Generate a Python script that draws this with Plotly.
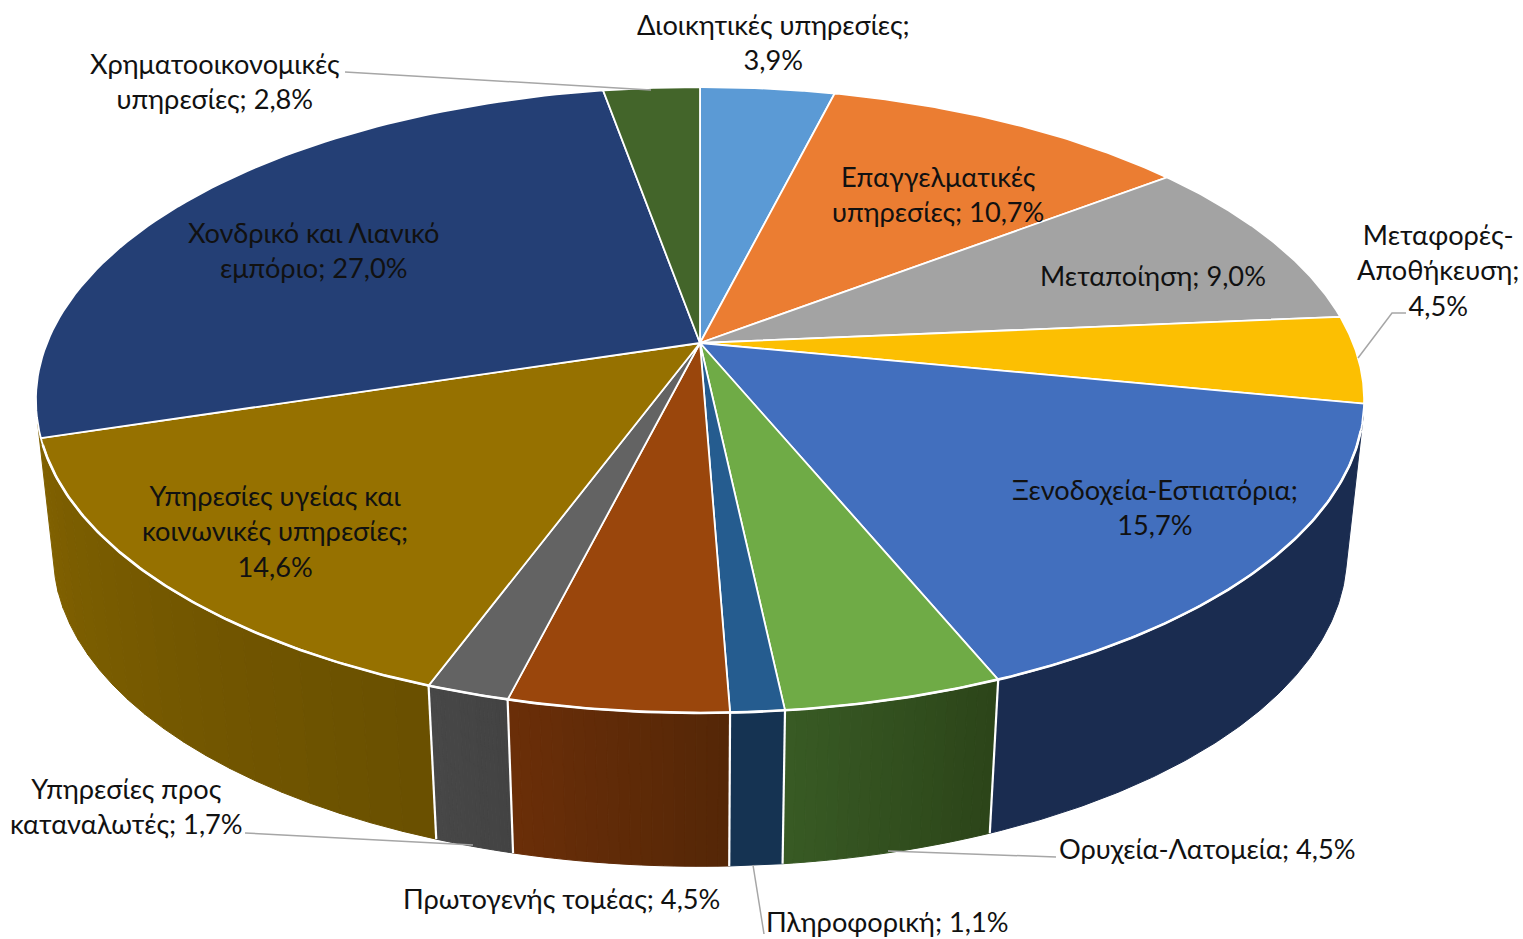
import numpy as np
import plotly.graph_objects as go

categories = ["Διοικητικές υπηρεσίες", "Επαγγελματικές υπηρεσίες", "Μεταποίηση", "Μεταφορές-Αποθήκευση",
              "Ξενοδοχεία-Εστιατόρια", "Ορυχεία-Λατομεία", "Πληροφορική", "Πρωτογενής τομέας",
              "Υπηρεσίες προς καταναλωτές", "Υπηρεσίες υγείας και κοινωνικές υπηρεσίες",
              "Χονδρικό και Λιανικό εμπόριο", "Χρηματοοικονομικές υπηρεσίες"]
shares = [3.9, 10.7, 9.0, 4.5, 15.7, 4.5, 1.1, 4.5, 1.7, 14.6, 27.0, 2.8]

top_colors = ["#5B9AD5", "#EB7D32", "#A3A3A3", "#FCBF02", "#426FBE", "#6FAB46",
              "#255C8F", "#9A460C", "#636363", "#967100", "#243F75", "#43652A"]
wall_left = {4: "#1A2C50", 5: "#385A24", 6: "#153352", 7: "#6A2E08", 8: "#474747", 9: "#806100"}
wall_right = {4: "#1A2C50", 5: "#2C4519", 6: "#153352", 7: "#552707", 8: "#434343", 9: "#6A5000"}

# label layout: text lines with line breaks, centre x, centre y
label_breaks = {0: "Διοικητικές υπηρεσίες;<br>{v}", 1: "Επαγγελματικές<br>υπηρεσίες; {v}", 2: "Μεταποίηση; {v}",
                3: "Μεταφορές-<br>Αποθήκευση;<br>{v}", 4: "Ξενοδοχεία-Εστιατόρια;<br>{v}",
                5: "Ορυχεία-Λατομεία; {v}", 6: "Πληροφορική; {v}", 7: "Πρωτογενής τομέας; {v}",
                8: "Υπηρεσίες προς<br>καταναλωτές; {v}", 9: "Υπηρεσίες υγείας και<br>κοινωνικές υπηρεσίες;<br>{v}",
                10: "Χονδρικό και Λιανικό<br>εμπόριο; {v}", 11: "Χρηματοοικονομικές<br>υπηρεσίες; {v}"}
label_xy = {0: (773, 42), 1: (938, 194), 2: (1153, 275), 3: (1438, 269.5), 4: (1155, 507), 5: (1207, 848),
            6: (887, 921.5), 7: (561, 898), 8: (126, 806), 9: (275, 531), 10: (313, 249.5), 11: (215, 81)}
leaders = [[(345, 72), (651, 90)], [(1406, 313), (1392, 313), (1358, 358)], [(1056, 857), (888, 851)],
           [(764, 934), (753, 865)], [(245, 833), (473, 845)]]

K_TOP, A_TOP, B_TOP, V_TOP = 0.182, 653.0, 302.6, 343.0
K_BOT, A_BOT, B_BOT, V_BOT = 0.18, 636.0, 302.0, 498.0
CX = 700.0
FONT = "Lato, 'Open Sans', sans-serif"


def project(theta, k, a, b, v0):
    X, Y = np.sin(theta), np.cos(theta)
    w = 1 + k * Y
    return CX + a * X / w, v0 - b * Y / w


def top(theta):
    return project(theta, K_TOP, A_TOP, B_TOP, V_TOP)


def bot(theta):
    return project(theta, K_BOT, A_BOT, B_BOT, V_BOT)


def mix(c1, c2, t):
    a = [int(c1[i:i + 2], 16) for i in (1, 3, 5)]
    b = [int(c2[i:i + 2], 16) for i in (1, 3, 5)]
    return "rgb({},{},{})".format(*[round(p + (q - p) * t) for p, q in zip(a, b)])


edges = np.radians(np.concatenate([[0], np.cumsum(shares)]) * 3.6)
VIS_FROM, VIS_TO = np.radians(103), np.radians(255.5)

fig = go.Figure()


def poly(xs, ys, fill, line=None, width=1.0):
    fig.add_trace(go.Scatter(x=list(xs), y=list(ys), mode="lines", fill="toself", fillcolor=fill,
                             line=dict(color=line or fill, width=width), hoverinfo="skip", showlegend=False))


def stroke(xs, ys, color="white", width=2.0):
    fig.add_trace(go.Scatter(x=list(xs), y=list(ys), mode="lines", line=dict(color=color, width=width),
                             hoverinfo="skip", showlegend=False))


# walls, with gradient strips
for i in [9, 8, 4, 5, 6, 7]:
    t0 = max(edges[i], VIS_FROM)
    t1 = VIS_TO if i == 9 else edges[i + 1]
    strips = 20 if wall_left[i] != wall_right[i] else 1
    bounds = np.linspace(t1, t0, strips + 1)
    for s in range(strips):
        th = np.linspace(bounds[s], bounds[s + 1], 16 if strips > 1 else 120)
        xt, yt = top(th)
        xb, yb = bot(th)
        poly(np.r_[xt, xb[::-1], xt[0]], np.r_[yt, yb[::-1], yt[0]],
             mix(wall_left[i], wall_right[i], s / max(strips - 1, 1)))

# white seams between neighbouring walls
for e in edges[5:10]:
    xt, yt = top(e)
    xb, yb = bot(e)
    stroke([xt, xb], [yt, yb], width=2.2)

# top faces
for i in range(len(shares)):
    th = np.linspace(edges[i], edges[i + 1], 80)
    x, y = top(th)
    poly(np.r_[CX, x, CX], np.r_[V_TOP, y, V_TOP], top_colors[i], line="white", width=1.8)

# brighter rim along the front of the top face
th = np.linspace(np.radians(106), np.radians(251.5), 300)
stroke(*top(th), width=2.6)

for pts in leaders:
    stroke([p[0] for p in pts], [p[1] for p in pts], color="#A6A6A6", width=1.5)

for i, (name, v) in enumerate(zip(categories, shares)):
    txt = label_breaks[i].format(v=f"{v:.1f}%".replace(".", ","))
    fig.add_annotation(x=label_xy[i][0], y=label_xy[i][1], text=txt, showarrow=False, xanchor="center",
                       yanchor="middle", align="center", font=dict(family=FONT, size=27.2, color="#111111"))

fig.update_layout(width=1523, height=939, margin=dict(l=0, r=0, t=0, b=0), paper_bgcolor="white",
                  plot_bgcolor="white", showlegend=False,
                  xaxis=dict(range=[0, 1523], visible=False, fixedrange=True),
                  yaxis=dict(range=[939, 0], visible=False, fixedrange=True))
fig.write_html("out.html", post_script="document.body.style.margin='0';document.body.style.overflow='hidden';",
               config=dict(displayModeBar=False))
